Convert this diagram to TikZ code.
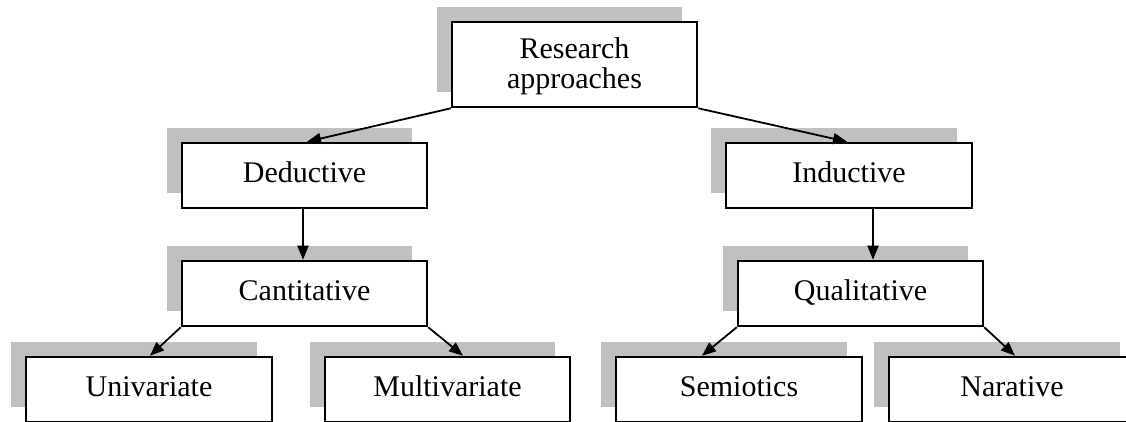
\documentclass[tikz,border=0pt]{standalone}
\usepackage{fontspec}
\setmainfont{Liberation Serif}
\usetikzlibrary{arrows.meta,shadows}
\definecolor{shadowgray}{RGB}{192,192,192}
\tikzset{
  box/.style={draw=black, fill=white, line width=2.6pt, inner sep=0pt,
    text height=39pt, text depth=26pt, minimum width=245pt,
    font=\fontsize{30}{30}\selectfont,
    general shadow={fill=shadowgray, draw=none, shadow xshift=-15pt, shadow yshift=15pt}},
  link/.style={line width=1.8pt, -{Triangle[length=14pt,width=11pt]}}
}
\begin{document}
\begin{tikzpicture}[x=1pt,y=-1pt]
  \useasboundingbox (0,0) rectangle (1126,421);
  \clip (0,0) rectangle (1126,421);
  \fill[white] (0,0) rectangle (1126,421);

  % top level
  \node[box, text height=36pt, text depth=49pt] (top) at (574.5,64.5)
    {\begin{tabular}[t]{@{}c@{}}Research\\approaches\end{tabular}};

  % second level
  \node[box] (ded) at (304.5,175.5) {Deductive};
  \node[box, minimum width=246pt] (ind) at (849,175.5) {Inductive};

  % third level
  \node[box] (can) at (304.5,293.5) {Cantitative};
  \node[box] (qual) at (860.5,293.5) {Qualitative};

  % bottom level
  \node[box, minimum width=246pt] (uni) at (149,389.5) {Univariate};
  \node[box] (mul) at (447.5,389.5) {Multivariate};
  \node[box, minimum width=246pt] (sem) at (739,389.5) {Semiotics};
  \node[box, minimum width=246pt] (nar) at (1012,389.5) {Narative};

  % connectors
  \draw[link] (top.south west) -- ([xshift=2.5pt]ded.north);
  \draw[link] (top.south east) -- ([xshift=-2pt]ind.north);
  \draw[link] ([xshift=-1.5pt]ded.south) -- ([xshift=-1.5pt]can.north);
  \draw[link] ([xshift=24pt]ind.south) -- ([xshift=24pt]ind.south |- qual.north);
  \draw[link] (can.south west) -- ([xshift=1pt]uni.north);
  \draw[link] (can.south east) -- ([xshift=15.5pt]mul.north);
  \draw[link] (qual.south west) -- ([xshift=-37pt]sem.north);
  \draw[link] (qual.south east) -- ([xshift=3pt]nar.north);
\end{tikzpicture}
\end{document}
